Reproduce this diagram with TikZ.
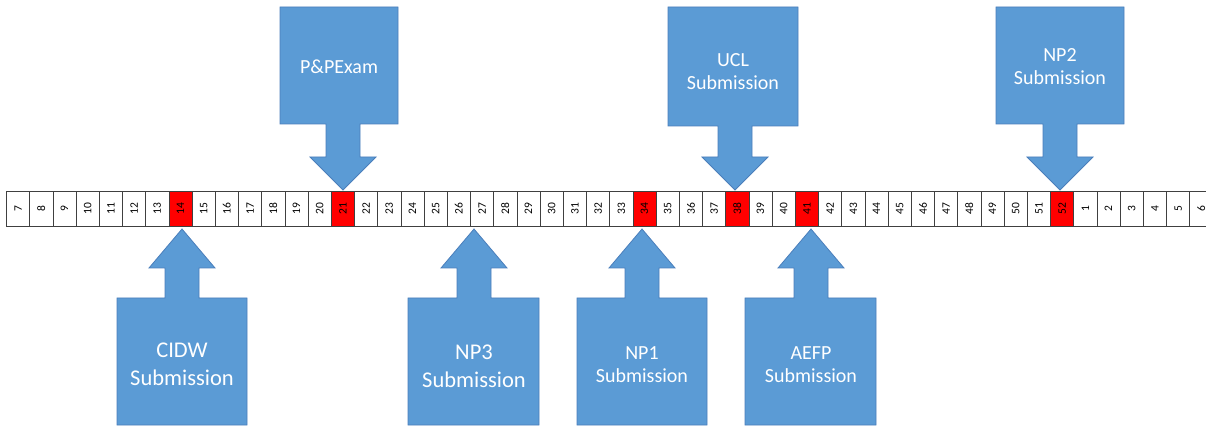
\documentclass[tikz,border=0pt]{standalone}
\usepackage{fontspec}
\usepackage{graphicx}
\setmainfont{Carlito}
\definecolor{calloutblue}{HTML}{5B9BD5}
\definecolor{calloutedge}{HTML}{4A7EBB}
\tikzset{
  week-cell/.style={draw=black!75,line width=0.7pt,minimum width=23.2pt,minimum height=35pt,inner sep=0pt,font=\fontsize{11.5}{11.5}\selectfont},
  callout/.style={fill=calloutblue,draw=calloutedge,line width=0.8pt,line join=miter},
  callout-text/.style={align=center,text=white,inner sep=0pt,font=\fontsize{20}{23}\selectfont},
  callout-text-big/.style={callout-text,font=\fontsize{22.5}{28}\selectfont},
}
\begin{document}
\begin{tikzpicture}[x=1pt,y=-1pt]
\useasboundingbox (0,0) rectangle (1206,427);
% week row
\foreach \i in {0,...,51}{
  \pgfmathtruncatemacro\wk{mod(\i+6,52)+1}
  \pgfmathtruncatemacro\isred{(\wk==14)||(\wk==21)||(\wk==34)||(\wk==38)||(\wk==41)||(\wk==52)}
  \ifnum\isred=1 \def\cellfill{red}\else\def\cellfill{white}\fi
  \node[week-cell,fill=\cellfill] (week-\wk) at (18.1+23.2*\i,208.5) {\rotatebox{90}{\wk}};
}
% callouts above the row
\path[callout] (280,7) -- (398,7) -- (398,124) -- (360,124) -- (360,157) -- (376,157) -- (343,190) -- (310,157) -- (326,157) -- (326,124) -- (280,124) -- cycle;
\node[callout-text] (exam-pp) at (339,67) {P\&PExam};
\path[callout] (668,7) -- (798,7) -- (798,126) -- (752,126) -- (752,157) -- (768,157) -- (735,190) -- (702,157) -- (718,157) -- (718,126) -- (668,126) -- cycle;
\node[callout-text] (sub-ucl) at (733,72) {UCL\\Submission};
\path[callout] (996,7) -- (1124,7) -- (1124,124) -- (1077,124) -- (1077,157) -- (1093,157) -- (1060,190) -- (1027,157) -- (1043,157) -- (1043,124) -- (996,124) -- cycle;
\node[callout-text] (sub-np2) at (1060,67) {NP2\\Submission};
% callouts below the row
\path[callout] (182,229) -- (215,268) -- (199,268) -- (199,298) -- (247,298) -- (247,425) -- (117,425) -- (117,298) -- (165,298) -- (165,268) -- (149,268) -- cycle;
\node[callout-text-big] (sub-cidw) at (182,364) {CIDW\\Submission};
\path[callout] (474,229) -- (507,268) -- (491,268) -- (491,298) -- (539,298) -- (539,425) -- (408,425) -- (408,298) -- (457,298) -- (457,268) -- (441,268) -- cycle;
\node[callout-text-big] (sub-np3) at (474,366) {NP3\\Submission};
\path[callout] (642,229) -- (675,268) -- (659,268) -- (659,298) -- (707,298) -- (707,425) -- (577,425) -- (577,298) -- (625,298) -- (625,268) -- (609,268) -- cycle;
\node[callout-text] (sub-np1) at (642,365) {NP1\\Submission};
\path[callout] (811,229) -- (844,268) -- (828,268) -- (828,298) -- (876,298) -- (876,425) -- (745,425) -- (745,298) -- (794,298) -- (794,268) -- (778,268) -- cycle;
\node[callout-text] (sub-aefp) at (811,365) {AEFP\\Submission};
\end{tikzpicture}
\end{document}
